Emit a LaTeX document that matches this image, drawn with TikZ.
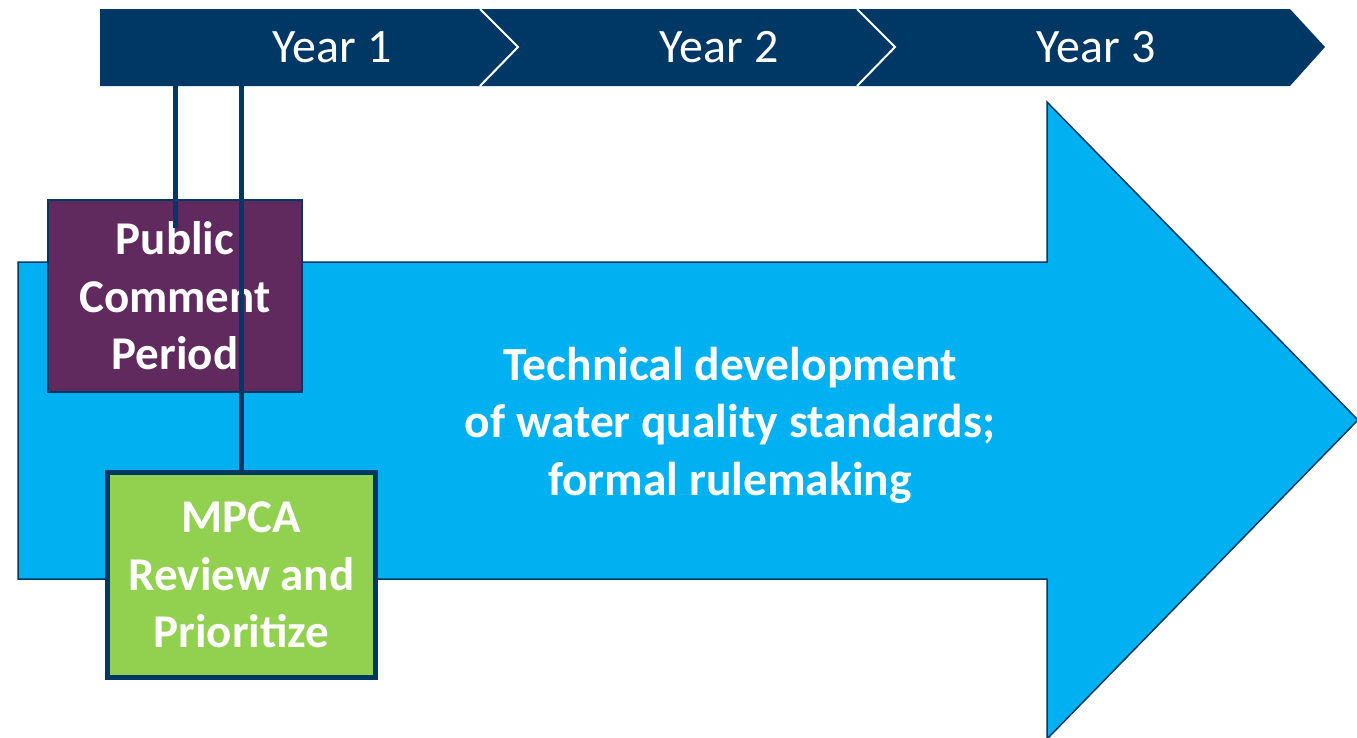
\documentclass[tikz,border=0pt]{standalone}
\usepackage{fontspec}
\setmainfont{Carlito}
\definecolor{navy}{RGB}{0,56,101}
\definecolor{sky}{RGB}{0,176,240}
\definecolor{plum}{RGB}{96,42,94}
\definecolor{leaf}{RGB}{146,208,80}
\begin{document}
\begin{tikzpicture}[x=1pt,y=-1pt,
    box/.style={draw=navy,text=white,align=center,inner sep=0pt,
        font=\bfseries\fontsize{47}{57.5}\selectfont},
    yearlabel/.style={text=white,font=\fontsize{48}{56}\selectfont}]
    \useasboundingbox (0,0) rectangle (1357,737);
    % Big arrow
    \draw[navy,fill=sky,line width=1.5] (18,262) -- (1047,262) -- (1047,102)
        -- (1358,420) -- (1047,739) -- (1047,579) -- (18,579) -- cycle;
    \node[text=white,align=center,font=\bfseries\fontsize{47.5}{57.5}\selectfont]
        (tech) at (730,425) {Technical development\\of water quality standards;\\formal rulemaking};
    % Year bar
    \fill[navy] (100,9) -- (1290,9) -- (1325,47) -- (1290,86) -- (100,86) -- cycle;
    \foreach \x in {480,857}
        \draw[white,line width=2] (\x,9) -- (\x+38,47) -- (\x,86);
    \foreach \x/\n in {332/1,719/2,1096/3}
        \node[yearlabel] (year\n) at (\x,47) {Year \n};
    % Boxes
    \node[box,fill=plum,line width=2,minimum width=254,minimum height=192]
        (pub) at (175,296) {Public\\Comment\\Period};
    \node[box,fill=leaf,line width=5,minimum width=268,minimum height=205]
        (mpca) at (241.5,575) {MPCA\\Review and\\Prioritize};
    % Ticks from year bar
    \coordinate (t1) at (175,86);
    \coordinate (t2) at (241,86);
    \coordinate (c1) at (175,228);
    \begin{scope}[navy,line width=5]
        \draw (t1) -- (c1);
        \draw (t2) -- (t2 |- mpca.north);
    \end{scope}
\end{tikzpicture}
\end{document}
